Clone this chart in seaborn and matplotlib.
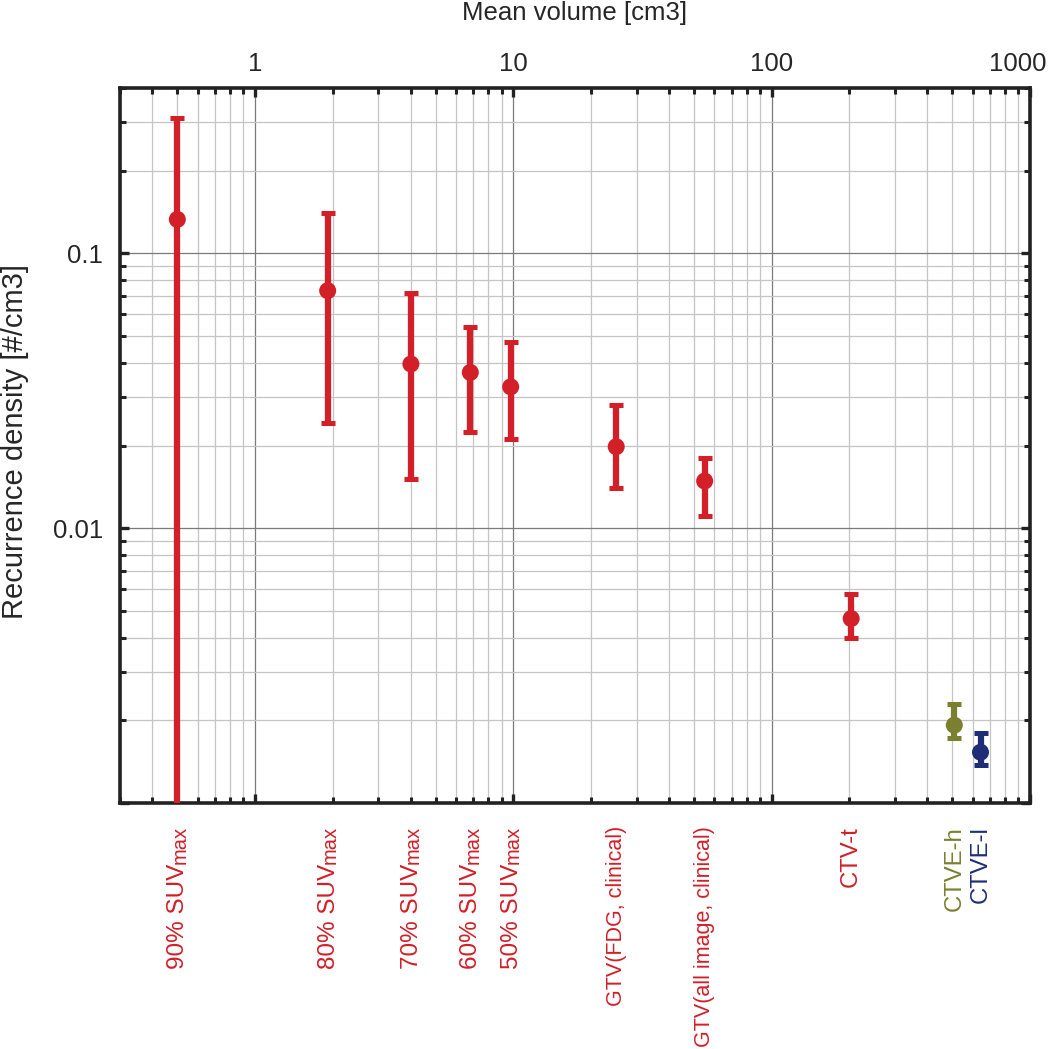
import numpy as np
import pandas as pd
import matplotlib
matplotlib.use("Agg")
import matplotlib.pyplot as plt
import matplotlib.ticker as mticker
import matplotlib.transforms as mtransforms
import seaborn as sns

# --- data ---
# label = main part + optional small suffix ("max" of SUVmax)
label_main = ["90% SUV", "80% SUV", "70% SUV", "60% SUV", "50% SUV",
              "GTV(FDG, clinical)", "GTV(all image, clinical)",
              "CTV-t", "CTVE-h", "CTVE-l"]
label_small = ["max", "max", "max", "max", "max", "", "", "", "", ""]
volume = [0.50, 1.91, 4.01, 6.81, 9.76, 25.0, 55.0, 203, 509, 643]
density = [0.133, 0.0732, 0.0396, 0.0369, 0.0327, 0.0198, 0.01485, 0.00469, 0.00192, 0.00153]
upper = [0.311, 0.140, 0.0720, 0.0541, 0.0478, 0.0280, 0.0180, 0.00574, 0.00229, 0.00180]
lower = [0.0, 0.0242, 0.0151, 0.0224, 0.0211, 0.01404, 0.01108, 0.00399, 0.00172, 0.00138]
group = ["red"] * 8 + ["olive", "navy"]

palette = {"red": "#d21f28", "olive": "#7b8030", "navy": "#1f2d78"}

df = pd.DataFrame({"Main": label_main, "Small": label_small, "Volume": volume,
                   "Density": density, "Upper": upper, "Lower": lower, "Group": group})

sns.set_style("white")
plt.rcParams["font.family"] = ["Liberation Sans", "DejaVu Sans"]

fig = plt.figure(figsize=(10.5, 10.49), dpi=100)
ax = fig.add_axes([0.1143, 0.2345, 0.8667, 0.6816])
ax.set_xscale("log")
ax.set_yscale("log")
ax.set_xlim(0.3, 1000)
ax.set_ylim(0.001, 0.4)

# error bars
for _, r in df.iterrows():
    c = palette[r["Group"]]
    yerr = [[r["Density"] - r["Lower"]], [r["Upper"] - r["Density"]]]
    ax.errorbar(r["Volume"], r["Density"], yerr=yerr, fmt="none", ecolor=c,
                elinewidth=4.5, capsize=5, capthick=3.6, zorder=3)

sns.scatterplot(data=df, x="Volume", y="Density", hue="Group", palette=palette,
                s=150, edgecolor="none", legend=False, ax=ax, zorder=4)

# grid
ax.grid(True, which="major", color="#7a7a7a", linewidth=0.9)
ax.grid(True, which="minor", color="#c4c4c4", linewidth=0.9)
ax.set_axisbelow(True)

# ticks
ax.xaxis.set_major_locator(mticker.FixedLocator([1, 10, 100, 1000]))
ax.xaxis.set_major_formatter(mticker.FixedFormatter(["1", "10", "100", "1000"]))
ax.xaxis.set_minor_locator(mticker.LogLocator(base=10, subs=np.arange(2, 10), numticks=20))
ax.xaxis.set_minor_formatter(mticker.NullFormatter())
ax.yaxis.set_major_locator(mticker.FixedLocator([0.001, 0.01, 0.1]))
ax.yaxis.set_major_formatter(mticker.FixedFormatter(["", "0.01", "0.1"]))
ax.yaxis.set_minor_locator(mticker.LogLocator(base=10, subs=np.arange(2, 10), numticks=20))
ax.yaxis.set_minor_formatter(mticker.NullFormatter())

ax.tick_params(which="both", direction="in", top=True, bottom=True, left=True, right=True,
               color="#222222", labelsize=18.5)
ax.tick_params(axis="x", labeltop=True, labelbottom=False, pad=9)
ax.tick_params(axis="y", pad=12)
ax.tick_params(which="major", length=6.5, width=2.4)
ax.tick_params(which="minor", length=4, width=2.2)

for s in ax.spines.values():
    s.set_linewidth(2.6)
    s.set_color("#222222")

ax.xaxis.set_label_position("top")
ax.set_xlabel("Mean volume [cm3]", fontsize=18.5, labelpad=23)
ax.set_ylabel("Recurrence density [#/cm3]", fontsize=21)
ax.yaxis.set_label_coords(-0.1, 0.506)

# shift the "1000" label left so it stays inside the figure
fig.canvas.draw()
for t in ax.get_xticklabels():
    if t.get_text() == "1000":
        t.set_transform(t.get_transform() +
                        mtransforms.ScaledTranslation(-0.12, 0, fig.dpi_scale_trans))

# category labels under the axis
trans = mtransforms.blended_transform_factory(ax.transData, ax.transAxes)
renderer = fig.canvas.get_renderer()
for _, r in df.iterrows():
    c = palette[r["Group"]]
    if r["Small"]:
        small = ax.text(r["Volume"], -0.032, r["Small"], transform=trans, rotation=90,
                        ha="right", va="top", fontsize=14.5, color=c)
        small.set_transform(trans + mtransforms.ScaledTranslation(0.12, 0, fig.dpi_scale_trans))
        fig.canvas.draw()
        h = small.get_window_extent(renderer).height / fig.dpi
        ax.text(r["Volume"], -0.032, r["Main"], rotation=90, ha="right", va="top",
                fontsize=17.5, color=c,
                transform=trans + mtransforms.ScaledTranslation(0.12, -h, fig.dpi_scale_trans))
    else:
        size = 15.5 if r["Main"].startswith("GTV") else 17.2
        ax.text(r["Volume"], -0.032, r["Main"], transform=trans, rotation=90,
                ha="center", va="top", fontsize=size, color=c)

fig.savefig("out.png", dpi=100)
